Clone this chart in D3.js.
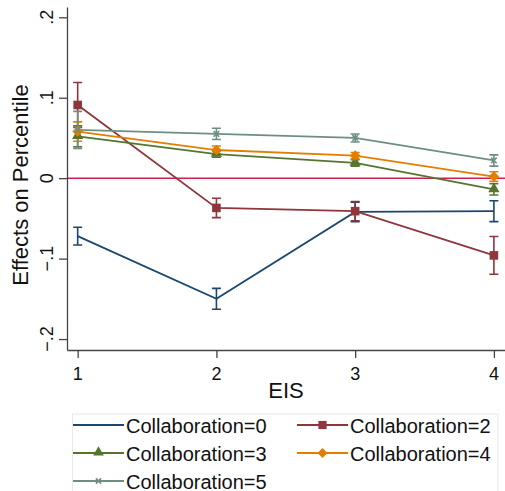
<!DOCTYPE html>
<html lang="en">
<head>
<meta charset="UTF-8">
<title>Effects on Percentile by EIS</title>
<style>
    body { margin: 0; background: #fff; }
    svg { display: block; font-family: "Liberation Sans", Arial, sans-serif; }
</style>
</head>
<body>
<script src="https://d3js.org/d3.v7.min.js"></script>
<script>
    // Data
    const eis = [1, 2, 3, 4];
    const seriesNames = ["Collaboration=0", "Collaboration=2", "Collaboration=3", "Collaboration=4", "Collaboration=5"];
    const collab0 = [-0.072, -0.150, -0.042, -0.041];
    const collab0Err = [0.011, 0.013, 0.012, 0.013];
    const collab2 = [0.091, -0.037, -0.041, -0.096];
    const collab2Err = [0.028, 0.012, 0.012, 0.0235];
    const collab3 = [0.052, 0.030, 0.019, -0.014];
    const collab3Err = [0.013, 0.004, 0.004, 0.007];
    const collab4 = [0.058, 0.035, 0.028, 0.002];
    const collab4Err = [0.012, 0.005, 0.004, 0.006];
    const collab5 = [0.060, 0.055, 0.050, 0.022];
    const collab5Err = [0.023, 0.007, 0.005, 0.007];
    const yTicks = [-0.2, -0.1, 0, 0.1, 0.2];

    const colors = ["#1a476f", "#90353b", "#55752f", "#e37e00", "#6e8e84"];
    const symbols = [null, "square", "triangle", "diamond", "cross"];

    const series = [collab0, collab2, collab3, collab4, collab5].map(function(vals, i) {
        const errs = [collab0Err, collab2Err, collab3Err, collab4Err, collab5Err][i];
        return {
            name: seriesNames[i], color: colors[i], symbol: symbols[i],
            points: eis.map(function(x, j) { return {x: x, y: vals[j], e: errs[j]}; })
        };
    });

    const width = 505, height = 491;
    const x = d3.scaleLinear().domain([0.923, 4.08]).range([67, 505]);
    const y = d3.scaleLinear().domain([-0.2136, 0.2128]).range([350, 7]);

    const svg = d3.select("body").append("svg")
        .attr("width", width)
        .attr("height", height);

    // zero reference line
    svg.append("line")
        .attr("x1", x.range()[0]).attr("x2", x.range()[1])
        .attr("y1", y(0)).attr("y2", y(0))
        .attr("stroke", "#d21f4f").attr("stroke-width", 1.6);

    // axes
    const fmt = function(d) {
        if (d === 0) return "0";
        return d3.format(".1f")(d).replace("0.", ".");
    };

    const yAxis = svg.append("g")
        .attr("transform", "translate(67,0)")
        .call(d3.axisLeft(y).tickValues(yTicks).tickSize(8).tickSizeOuter(0).tickFormat(""));
    yAxis.selectAll("path, line").attr("stroke", "#444").attr("stroke-width", 1.3);

    svg.selectAll(".ylab")
        .data(yTicks)
        .enter().append("text")
        .attr("class", "ylab")
        .attr("transform", function(d) { return "translate(47," + y(d) + ") rotate(-90)"; })
        .attr("dy", "0.36em")
        .attr("text-anchor", "middle")
        .attr("font-size", 18)
        .attr("fill", "#111")
        .text(fmt);

    const xAxis = svg.append("g")
        .attr("transform", "translate(0,350)")
        .call(d3.axisBottom(x).tickValues(eis).tickSize(8).tickSizeOuter(0).tickFormat(""));
    xAxis.selectAll("path, line").attr("stroke", "#444").attr("stroke-width", 1.3);

    svg.selectAll(".xlab")
        .data(eis)
        .enter().append("text")
        .attr("class", "xlab")
        .attr("x", function(d) { return x(d); })
        .attr("y", 380)
        .attr("text-anchor", "middle")
        .attr("font-size", 18)
        .attr("fill", "#111")
        .text(d3.format("d"));

    // axis titles
    svg.append("text")
        .attr("x", 286).attr("y", 398)
        .attr("text-anchor", "middle")
        .attr("font-size", 22)
        .attr("fill", "#111")
        .text("EIS");

    svg.append("text")
        .attr("transform", "translate(20,185) rotate(-90)")
        .attr("dy", "0.36em")
        .attr("text-anchor", "middle")
        .attr("font-size", 22)
        .attr("fill", "#111")
        .text("Effects on Percentile");

    // marker drawing
    function marker(sel, symbol, color, cx, cy, scale) {
        scale = scale || 1;
        if (symbol === "square") {
            sel.append("rect")
                .attr("x", cx - 4.3 * scale).attr("y", cy - 4.3 * scale)
                .attr("width", 8.6 * scale).attr("height", 8.6 * scale)
                .attr("fill", color);
        } else if (symbol === "triangle") {
            sel.append("path")
                .attr("d", d3.symbol(d3.symbolTriangle, 55 * scale * scale)())
                .attr("transform", "translate(" + cx + "," + (cy - 0.5) + ")")
                .attr("fill", color);
        } else if (symbol === "diamond") {
            const r = 5.3 * scale;
            sel.append("path")
                .attr("d", "M" + cx + "," + (cy - r) + "L" + (cx + r) + "," + cy + "L" + cx + "," + (cy + r) + "L" + (cx - r) + "," + cy + "Z")
                .attr("fill", color);
        } else if (symbol === "cross") {
            const r = 2.8 * scale;
            sel.append("path")
                .attr("d", "M" + (cx - r) + "," + (cy - r) + "L" + (cx + r) + "," + (cy + r) + "M" + (cx - r) + "," + (cy + r) + "L" + (cx + r) + "," + (cy - r))
                .attr("stroke", color).attr("stroke-width", 1.6).attr("fill", "none");
        }
    }

    // confidence intervals (capped)
    const cap = 4.5;
    series.forEach(function(s) {
        const g = svg.append("g").attr("stroke", s.color).attr("stroke-width", 1.6).attr("fill", "none");
        s.points.forEach(function(p) {
            const px = x(p.x), lo = y(p.y - p.e), hi = y(p.y + p.e);
            g.append("path")
                .attr("d", "M" + (px - cap) + "," + hi + "H" + (px + cap) +
                    "M" + px + "," + hi + "V" + lo +
                    "M" + (px - cap) + "," + lo + "H" + (px + cap));
        });
    });

    // connected lines
    const line = d3.line().x(function(d) { return x(d.x); }).y(function(d) { return y(d.y); });
    series.forEach(function(s) {
        svg.append("path")
            .datum(s.points)
            .attr("d", line)
            .attr("fill", "none")
            .attr("stroke", s.color)
            .attr("stroke-width", 1.8);
    });

    // markers
    series.forEach(function(s) {
        const g = svg.append("g");
        s.points.forEach(function(p) { marker(g, s.symbol, s.color, x(p.x), y(p.y)); });
    });

    // legend
    svg.append("rect")
        .attr("x", 72.5).attr("y", 414)
        .attr("width", 425.5).attr("height", 90)
        .attr("fill", "#fff")
        .attr("stroke", "#e3eaec").attr("stroke-width", 1);

    const legendPos = [[73, 425], [297, 425], [73, 453], [297, 453], [73, 481]];
    series.forEach(function(s, i) {
        const lx = legendPos[i][0], ly = legendPos[i][1];
        const g = svg.append("g");
        g.append("line")
            .attr("x1", lx).attr("x2", lx + 51)
            .attr("y1", ly).attr("y2", ly)
            .attr("stroke", s.color).attr("stroke-width", 1.8);
        marker(g, s.symbol, s.color, lx + 25.5, ly, 0.95);
        g.append("text")
            .attr("x", lx + 53).attr("y", ly + 7.5)
            .attr("font-size", 20)
            .attr("fill", "#111")
            .text(s.name);
    });
</script>
</body>
</html>
